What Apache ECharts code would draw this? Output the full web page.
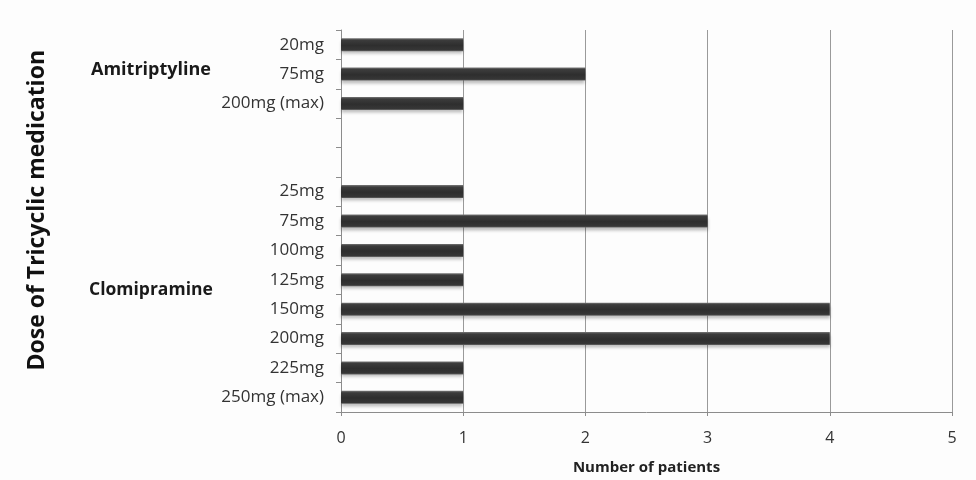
<!DOCTYPE html>
<html>
<head>
<meta charset="utf-8">
<script src="https://cdn.jsdelivr.net/npm/echarts@6/dist/echarts.min.js"></script>
<style>html,body{margin:0;padding:0;background:#fdfdfd;}#c{width:976px;height:480px;}</style>
</head>
<body>
<div id="c"></div>
<script>
const categories = ['20mg','75mg','200mg (max)','','','25mg','75mg','100mg','125mg','150mg','200mg','225mg','250mg (max)'];
const patients = [1,2,1,null,null,1,3,1,1,4,4,1,1];
const xTicks = [0,1,2,3,4,5];
const groupLabels = ['Amitriptyline','Clomipramine'];

const chart = echarts.init(document.getElementById('c'));
const font = '"Open Sans", "Liberation Sans", sans-serif';
chart.setOption({
  backgroundColor: '#fdfdfd',
  animation: false,
  grid: {left: 341, right: 24, top: 30, bottom: 67},
  xAxis: {
    type: 'value', min: xTicks[0], max: xTicks[xTicks.length-1], interval: 1,
    name: 'Number of patients', nameLocation: 'middle', nameGap: 48,
    nameTextStyle: {fontFamily: font, fontWeight: 'bold', fontSize: 15, color: '#222'},
    axisLine: {show: true, lineStyle: {color: '#8c8c8c'}},
    axisTick: {show: true, length: 4, lineStyle: {color: '#8c8c8c'}},
    axisLabel: {fontFamily: font, fontSize: 16, color: '#333', margin: 18},
    splitLine: {show: true, lineStyle: {color: '#9a9a9a', width: 1}}
  },
  yAxis: {
    type: 'category', data: categories, inverse: true,
    axisLine: {show: true, lineStyle: {color: '#8c8c8c'}},
    axisTick: {show: true, length: 5, lineStyle: {color: '#8c8c8c'}},
    axisLabel: {fontFamily: font, fontSize: 17, color: '#333', margin: 17},
    splitLine: {show: false}
  },
  graphic: [
    {type: 'text', left: 91, top: 61, style: {text: groupLabels[0], font: 'bold 18px ' + font, fill: '#1a1a1a'}},
    {type: 'text', left: 89, top: 281, style: {text: groupLabels[1], font: 'bold 17.5px ' + font, fill: '#1a1a1a'}},
    {type: 'text', left: 26, top: 50, rotation: Math.PI/2, style: {text: 'Dose of Tricyclic medication', font: 'bold 23px ' + font, fill: '#111'}}
  ],
  series: [{
    type: 'bar', data: patients, barWidth: 13,
    itemStyle: {
      color: new echarts.graphic.LinearGradient(0,0,0,1,[
        {offset: 0, color: '#777777'},
        {offset: 0.15, color: '#3c3c3c'},
        {offset: 0.55, color: '#2e2e2e'},
        {offset: 0.9, color: '#363636'},
        {offset: 1, color: '#6a6a6a'}
      ]),
      shadowColor: 'rgba(0,0,0,0.25)', shadowBlur: 3, shadowOffsetY: 3
    }
  }]
});
</script>
</body>
</html>
